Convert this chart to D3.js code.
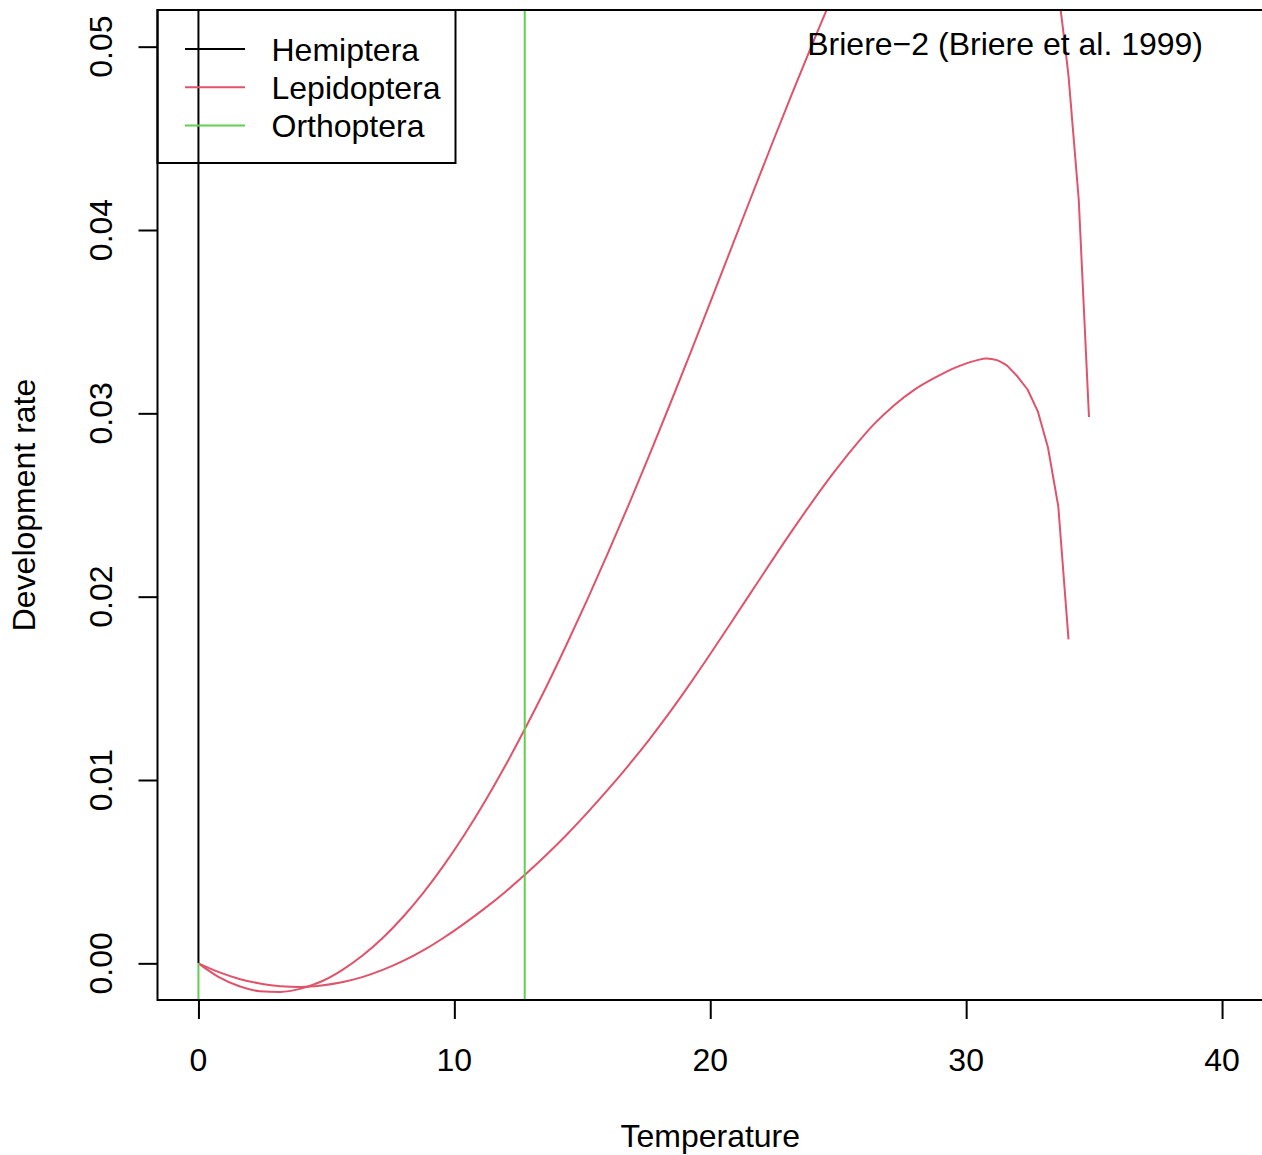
<!DOCTYPE html>
<html>
<head>
<meta charset="utf-8">
<script src="https://cdn.jsdelivr.net/npm/d3@7"></script>
<style>
  html, body { margin: 0; padding: 0; background: #ffffff; }
  svg { display: block; }
  text { font-family: "Liberation Sans", Arial, Helvetica, sans-serif; fill: #000; }
</style>
</head>
<body>
<script>
// ---------------- data ----------------
const seriesNames = ["Hemiptera", "Lepidoptera", "Orthoptera"];
const seriesColors = ["#000000", "#DF536B", "#61D04F"];

const xTicks = [0, 10, 20, 30, 40];
const yTicks = [0.00, 0.01, 0.02, 0.03, 0.04, 0.05];

const xLabel = "Temperature";
const yLabel = "Development rate";
const modelLabel = "Briere\u22122 (Briere et al. 1999)";

// Hemiptera (degenerate fit: vertical line at T = 0)
const hemipteraTemps = [0, 0];
const hemipteraRates = [0, 1];

// Orthoptera (degenerate fit: vertical lines at T = 0 and T = 12.75)
const orthopteraTemps = [0, 0, 12.75, 12.75];
const orthopteraRates = [0, -1, -1, 1];

// Lepidoptera, first (steep) curve
const lepTempsA = [0, 0.8, 1.6, 2.4, 3.2, 4.0, 4.8, 5.6, 6.4, 7.2, 8.0, 8.8, 9.6, 10.4, 11.2, 12.0,
  12.8, 13.6, 14.4, 15.2, 16.0, 16.8, 17.6, 18.4, 19.2, 20.0, 20.8, 21.6, 22.4, 23.2, 24.0, 24.8,
  25.6, 26.4, 27.2, 28.0, 28.8, 29.6, 30.4, 31.2, 32.0, 32.4, 32.8, 33.2, 33.6, 34.0, 34.4, 34.8];
const lepRatesA = [0, -0.00075, -0.00125, -0.00152, -0.00156, -0.00138, -0.00099, -0.00038, 0.00041,
  0.00138, 0.00254, 0.00387, 0.00537, 0.00703, 0.00884, 0.01080, 0.01290, 0.01510, 0.01743, 0.01985,
  0.02237, 0.02497, 0.02765, 0.03040, 0.03320, 0.03605, 0.03893, 0.04180, 0.04465, 0.04745, 0.05018,
  0.05282, 0.05527, 0.05754, 0.05956, 0.06130, 0.06267, 0.06355, 0.06386, 0.06337, 0.06181, 0.06046,
  0.05869, 0.05625, 0.05296, 0.04841, 0.04165, 0.02980];

// Lepidoptera, second (lower) curve
const lepTempsB = [0, 0.8, 1.6, 2.4, 3.2, 4.0, 4.8, 5.6, 6.4, 7.2, 8.0, 8.8, 9.6, 10.4, 11.2, 12.0,
  12.8, 13.6, 14.4, 15.2, 16.0, 16.8, 17.6, 18.4, 19.2, 20.0, 20.8, 21.6, 22.4, 23.2, 24.0, 24.8,
  25.6, 26.4, 27.2, 28.0, 28.8, 29.6, 30.4, 30.8, 31.2, 31.6, 32.0, 32.4, 32.8, 33.2, 33.6, 34.0];
const lepRatesB = [0, -0.00048, -0.00085, -0.00110, -0.00125, -0.00129, -0.00121, -0.00103, -0.00075,
  -0.00036, 0.00013, 0.00072, 0.00141, 0.00218, 0.00301, 0.00391, 0.00488, 0.00592, 0.00703, 0.00822,
  0.00947, 0.01079, 0.01218, 0.01366, 0.01523, 0.01687, 0.01855, 0.02025, 0.02194, 0.02360, 0.02520,
  0.02672, 0.02813, 0.02941, 0.03046, 0.03131, 0.03196, 0.03251, 0.03289, 0.03299, 0.03290, 0.03260,
  0.03202, 0.03130, 0.03011, 0.02812, 0.02493, 0.01767];

// ---------------- layout ----------------
const W = 1262, H = 1155;
const plot = { left: 157.5, right: 1263, top: 10, bottom: 1000 };
const FONT = 32;

const svg = d3.select("body").append("svg")
  .attr("width", W).attr("height", H)
  .attr("viewBox", `0 0 ${W} ${H}`);

const x = d3.scaleLinear().domain([-1.6, 41.6]).range([plot.left, plot.right]);
const y = d3.scaleLinear().domain([-0.002, 0.052]).range([plot.bottom, plot.top]);

svg.append("defs").append("clipPath").attr("id", "plotclip")
  .append("rect")
  .attr("x", plot.left).attr("y", plot.top)
  .attr("width", plot.right - plot.left).attr("height", plot.bottom - plot.top);

const zip = (ts, rs) => ts.map((t, i) => ({ t: t, r: rs[i] }));
const straight = d3.line().x(d => x(d.t)).y(d => y(d.r));
const smooth = d3.line().x(d => x(d.t)).y(d => y(d.r)).curve(d3.curveMonotoneX);

// each curve: smooth part up to `smoothEnd`, straight segments after it
const curves = [
  { data: zip(hemipteraTemps, hemipteraRates), color: seriesColors[0], smoothEnd: null },
  { data: zip(lepTempsA, lepRatesA), color: seriesColors[1], smoothEnd: 34.0 },
  { data: zip(lepTempsB, lepRatesB), color: seriesColors[1], smoothEnd: 31.6 },
  { data: zip(orthopteraTemps, orthopteraRates), color: seriesColors[2], smoothEnd: null }
];

function pathFor(c) {
  if (c.smoothEnd === null) return straight(c.data);
  const a = c.data.filter(d => d.t <= c.smoothEnd);
  const b = c.data.filter(d => d.t >= c.smoothEnd);
  const pa = smooth(a);
  const pb = straight(b);
  return pa + "L" + pb.slice(1);
}

const g = svg.append("g").attr("clip-path", "url(#plotclip)");
g.selectAll("path.curve").data(curves).enter().append("path")
  .attr("class", "curve")
  .attr("d", pathFor)
  .attr("fill", "none")
  .attr("stroke", d => d.color)
  .attr("stroke-width", 2)
  .attr("stroke-linejoin", "round");

// ---------------- axes ----------------
const xAxis = d3.axisBottom(x).tickValues(xTicks).tickSize(19).tickFormat("");
const xg = svg.append("g").attr("transform", `translate(0,${plot.bottom})`).call(xAxis);
xg.select(".domain").remove();
xg.selectAll(".tick line").attr("stroke", "#000").attr("stroke-width", 2);

svg.append("g").selectAll("text").data(xTicks).enter().append("text")
  .attr("x", d => x(d)).attr("y", 1071)
  .attr("text-anchor", "middle")
  .attr("font-size", FONT)
  .text(d => d3.format("d")(d));

const yAxis = d3.axisLeft(y).tickValues(yTicks).tickSize(19).tickFormat("");
const yg = svg.append("g").attr("transform", `translate(${plot.left},0)`).call(yAxis);
yg.select(".domain").remove();
yg.selectAll(".tick line").attr("stroke", "#000").attr("stroke-width", 2);

svg.append("g").selectAll("text").data(yTicks).enter().append("text")
  .attr("transform", d => `translate(112,${y(d)}) rotate(-90)`)
  .attr("text-anchor", "middle")
  .attr("font-size", FONT)
  .text(d => d3.format(".2f")(d));

// box
svg.append("rect")
  .attr("x", plot.left).attr("y", plot.top)
  .attr("width", plot.right - plot.left).attr("height", plot.bottom - plot.top)
  .attr("fill", "none").attr("stroke", "#000").attr("stroke-width", 2);

// axis titles
svg.append("text")
  .attr("x", (plot.left + plot.right) / 2).attr("y", 1147)
  .attr("text-anchor", "middle").attr("font-size", FONT)
  .text(xLabel);

svg.append("text")
  .attr("transform", `translate(35,${(plot.top + plot.bottom) / 2}) rotate(-90)`)
  .attr("text-anchor", "middle").attr("font-size", FONT)
  .text(yLabel);

// model label (top right)
svg.append("text")
  .attr("x", 1203).attr("y", 55)
  .attr("text-anchor", "end").attr("font-size", FONT)
  .text(modelLabel);

// ---------------- legend ----------------
const legend = svg.append("g");
legend.append("rect")
  .attr("x", plot.left).attr("y", plot.top)
  .attr("width", 298).attr("height", 153)
  .attr("fill", "none").attr("stroke", "#000").attr("stroke-width", 2);

const rows = legend.selectAll("g.row").data(seriesNames).enter().append("g")
  .attr("class", "row")
  .attr("transform", (d, i) => `translate(0,${49 + i * 38.3})`);
rows.append("line")
  .attr("x1", 185).attr("x2", 245).attr("y1", 0).attr("y2", 0)
  .attr("stroke", (d, i) => seriesColors[i]).attr("stroke-width", 2);
rows.append("text")
  .attr("x", 271.5).attr("y", 11.5)
  .attr("font-size", FONT)
  .text(d => d);
</script>
</body>
</html>
